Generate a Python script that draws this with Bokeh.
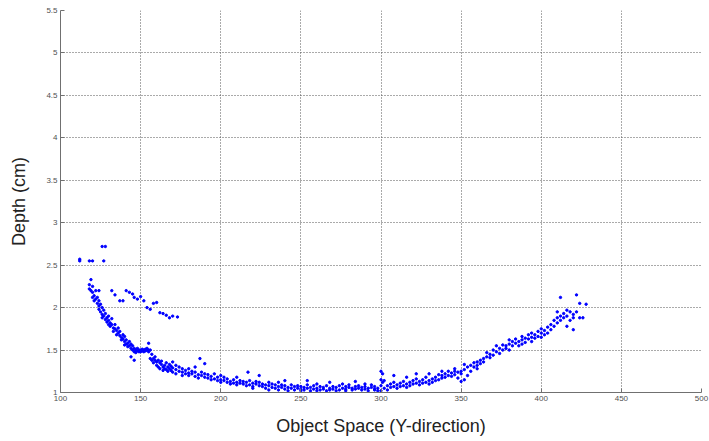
from bokeh.plotting import figure
from bokeh.models import Range1d, FixedTicker
from bokeh.embed import file_html
from bokeh.resources import INLINE

# main band, grouped by x
band = [
    (118, [2.27, 2.22]), (119, [2.33, 2.20]), (120, [2.18, 2.25, 2.12]), (121, [2.14, 2.08]),
    (122, [2.10, 2.20]), (123, [2.05, 2.12]), (124, [2.02, 2.08, 1.98]), (125, [1.95, 2.04]),
    (126, [1.92, 2.00, 1.88]), (127, [1.90, 1.97]), (128, [1.86, 1.93]), (129, [1.88, 1.83]),
    (130, [1.85, 1.80, 1.90]), (131, [1.82, 1.78]), (132, [1.80, 1.87]), (133, [1.76, 1.72]),
    (134, [1.75, 1.80]), (135, [1.73, 1.68]), (136, [1.70, 1.76]), (137, [1.67, 1.72]),
    (138, [1.65, 1.62]), (139, [1.63, 1.68]), (140, [1.60, 1.66, 1.56]), (141, [1.62, 1.57]),
    (142, [1.58, 1.54]), (143, [1.55, 1.60]), (144, [1.52, 1.57, 1.42]), (145, [1.50, 1.55]),
    (146, [1.48, 1.52, 1.38]), (147, [1.50, 1.47]), (148, [1.49, 1.52]), (149, [1.48, 1.50]),
    (150, [1.50, 1.48]), (151, [1.49, 1.51]), (152, [1.50, 1.48]), (153, [1.51, 1.49]),
    (154, [1.50, 1.52]), (155, [1.50, 1.58, 1.48]), (156, [1.40, 1.50]), (157, [1.38, 1.45]),
    (158, [1.40, 1.35]), (159, [1.38, 1.42]), (160, [1.36, 1.32]), (161, [1.38, 1.30]),
    (162, [1.35, 1.28]), (163, [1.33, 1.37]), (164, [1.30, 1.26]), (165, [1.32, 1.28]),
    (166, [1.27, 1.35]), (167, [1.30, 1.25]), (168, [1.28, 1.33]), (169, [1.26, 1.31]),
    (170, [1.29, 1.24, 1.36]), (172, [1.27, 1.22, 1.32]), (174, [1.25, 1.30]),
    (176, [1.24, 1.28, 1.20]), (178, [1.26, 1.22]), (180, [1.23, 1.20, 1.28]),
    (182, [1.22, 1.25]), (184, [1.19, 1.24, 1.30]), (186, [1.21, 1.17]), (187, [1.40]),
    (188, [1.20, 1.24]), (190, [1.18, 1.22, 1.34]), (192, [1.17, 1.21]), (194, [1.19, 1.15]),
    (196, [1.16, 1.22]), (198, [1.18, 1.14]), (200, [1.15, 1.20, 1.12]), (202, [1.14, 1.18]),
    (204, [1.12, 1.16]), (206, [1.13, 1.10]), (208, [1.15, 1.11]), (210, [1.12, 1.09, 1.18]),
    (212, [1.11, 1.14]), (214, [1.10, 1.13]), (216, [1.12, 1.08]), (217, [1.24]),
    (218, [1.09, 1.14]), (220, [1.11, 1.07, 1.05]), (222, [1.10, 1.13]), (224, [1.08, 1.12, 1.20]),
    (226, [1.07, 1.10]), (228, [1.09, 1.05]), (230, [1.08, 1.12, 1.03]), (232, [1.06, 1.10]),
    (234, [1.05, 1.09]), (236, [1.07, 1.03, 1.12]), (238, [1.06, 1.09]), (240, [1.04, 1.08, 1.14]),
    (242, [1.06, 1.02]), (244, [1.05, 1.09]), (246, [1.03, 1.07]), (248, [1.05, 1.08]),
    (250, [1.04, 1.02, 1.07]), (252, [1.06, 1.03]), (254, [1.05, 1.09, 1.14]), (256, [1.02, 1.06]),
    (258, [1.04, 1.08]), (260, [1.05, 1.02, 1.10]), (262, [1.03, 1.07]), (264, [1.06, 1.04]),
    (266, [1.02, 1.08]), (268, [1.05, 1.03, 1.12]), (270, [1.04, 1.07]), (272, [1.06, 1.02]),
    (274, [1.03, 1.08]), (276, [1.05, 1.10]), (278, [1.04, 1.07, 1.02]), (280, [1.06, 1.09]),
    (282, [1.03, 1.05]), (284, [1.07, 1.04, 1.13]), (286, [1.05, 1.08]), (288, [1.03, 1.06]),
    (290, [1.07, 1.04, 1.10]), (292, [1.05, 1.02]), (294, [1.06, 1.09]), (296, [1.04, 1.07, 1.03]),
    (298, [1.05, 1.02]), (300, [1.08, 1.15, 1.25, 1.02]), (301, [1.22, 1.12]), (302, [1.05, 1.14]),
    (304, [1.08, 1.03]), (306, [1.10, 1.06]), (308, [1.07, 1.12, 1.20]), (310, [1.09, 1.05]),
    (312, [1.11, 1.07]), (314, [1.08, 1.13]), (316, [1.10, 1.06, 1.18]), (318, [1.12, 1.08]),
    (320, [1.14, 1.10]), (322, [1.11, 1.16, 1.22]), (324, [1.13, 1.09]), (326, [1.15, 1.11]),
    (328, [1.12, 1.18]), (330, [1.14, 1.10, 1.22]), (332, [1.16, 1.12]), (334, [1.18, 1.14]),
    (336, [1.15, 1.21]), (338, [1.20, 1.17, 1.25]), (340, [1.22, 1.18]), (342, [1.20, 1.25]),
    (344, [1.23, 1.19]), (346, [1.25, 1.21, 1.28]), (348, [1.24, 1.17]), (350, [1.25, 1.22, 1.13]),
    (352, [1.27, 1.15, 1.33]), (354, [1.30, 1.20]), (356, [1.32, 1.25]), (358, [1.35, 1.30]),
    (360, [1.36, 1.32, 1.28]), (362, [1.38, 1.34]), (364, [1.40, 1.36]), (366, [1.42, 1.47]),
    (368, [1.45, 1.41]), (370, [1.44, 1.50]), (372, [1.48, 1.55]), (374, [1.52, 1.46]),
    (376, [1.50, 1.56]), (378, [1.55, 1.52]), (380, [1.57, 1.62, 1.50]), (382, [1.55, 1.60]),
    (384, [1.58, 1.63]), (386, [1.60, 1.55]), (388, [1.62, 1.57, 1.66]), (390, [1.59, 1.64]),
    (392, [1.63, 1.68]), (394, [1.65, 1.60, 1.70]), (396, [1.68, 1.64]), (398, [1.72, 1.66]),
    (400, [1.70, 1.75, 1.65]), (402, [1.73, 1.68]), (404, [1.77, 1.70]), (406, [1.80, 1.74]),
    (408, [1.85, 1.78]), (410, [1.88, 1.82, 1.95]), (412, [1.90, 1.85, 2.12]), (414, [1.93, 1.88]),
    (416, [1.90, 1.97, 1.78]), (418, [1.85, 1.95]), (420, [1.88, 1.92, 1.74]), (422, [1.95, 2.15]),
    (424, [2.05, 1.88]), (426, [1.88]), (428, [2.04]),
]

# upper branch and outliers
extra_x = [112, 112, 118, 120, 126, 128, 127, 124, 132, 134, 137, 139, 141, 143, 145, 146,
           148, 150, 152, 154, 156, 158, 160, 162, 164, 166, 168, 170, 173]
extra_y = [2.57, 2.55, 2.55, 2.55, 2.72, 2.72, 2.55, 2.20, 2.20, 2.15, 2.08, 2.08, 2.20, 2.18,
           2.16, 2.12, 2.10, 2.13, 2.08, 2.00, 1.98, 2.05, 2.06, 1.94, 1.93, 1.91, 1.88, 1.90, 1.89]

xs = [x for x, ys in band for _ in ys] + extra_x
ys = [y for _, yv in band for y in yv] + extra_y

x_ticks = [100, 150, 200, 250, 300, 350, 400, 450, 500]
y_ticks = [1, 1.5, 2, 2.5, 3, 3.5, 4, 4.5, 5, 5.5]
y_labels = {1: "1", 1.5: "1.5", 2: "2", 2.5: "2.5", 3: "3", 3.5: "3.5", 4: "4",
            4.5: "4.5", 5: "5", 5.5: "5.5"}

p = figure(width=709, height=441, output_backend="svg", toolbar_location=None,
           x_range=Range1d(100, 500), y_range=Range1d(1, 5.5),
           min_border_left=60, min_border_right=8, min_border_top=10, min_border_bottom=49)
p.outline_line_color = None
p.background_fill_color = "white"

p.scatter(xs, ys, size=2.4, marker="circle", color="#0000FF", line_color="#0000FF")

for ax in (p.xaxis[0], p.yaxis[0]):
    ax.major_tick_in = 4
    ax.major_tick_out = 0
    ax.minor_tick_in = 0
    ax.minor_tick_out = 0
    ax.axis_line_color = "#707070"
    ax.major_tick_line_color = "#707070"
    ax.major_label_text_font = "Liberation Sans"
    ax.major_label_text_font_size = "8px"
    ax.major_label_text_color = "#505050"
    ax.axis_label_text_font = "Liberation Sans"
    ax.axis_label_text_font_size = "18px"
    ax.axis_label_text_font_style = "normal"
    ax.axis_label_text_color = "#222222"

p.xaxis.ticker = FixedTicker(ticks=x_ticks)
p.yaxis.ticker = FixedTicker(ticks=y_ticks)
p.yaxis.major_label_overrides = y_labels
p.xaxis.axis_label = "Object Space (Y-direction)"
p.yaxis.axis_label = "Depth (cm)"
p.xaxis.axis_label_standoff = 12
p.yaxis.axis_label_standoff = 14
p.xaxis.major_label_standoff = 3
p.yaxis.major_label_standoff = 3

for g in (p.xgrid[0], p.ygrid[0]):
    g.grid_line_color = "#555555"
    g.grid_line_dash = "1 2"
    g.grid_line_width = 1

open("out.html", "w").write(file_html(p, INLINE))
